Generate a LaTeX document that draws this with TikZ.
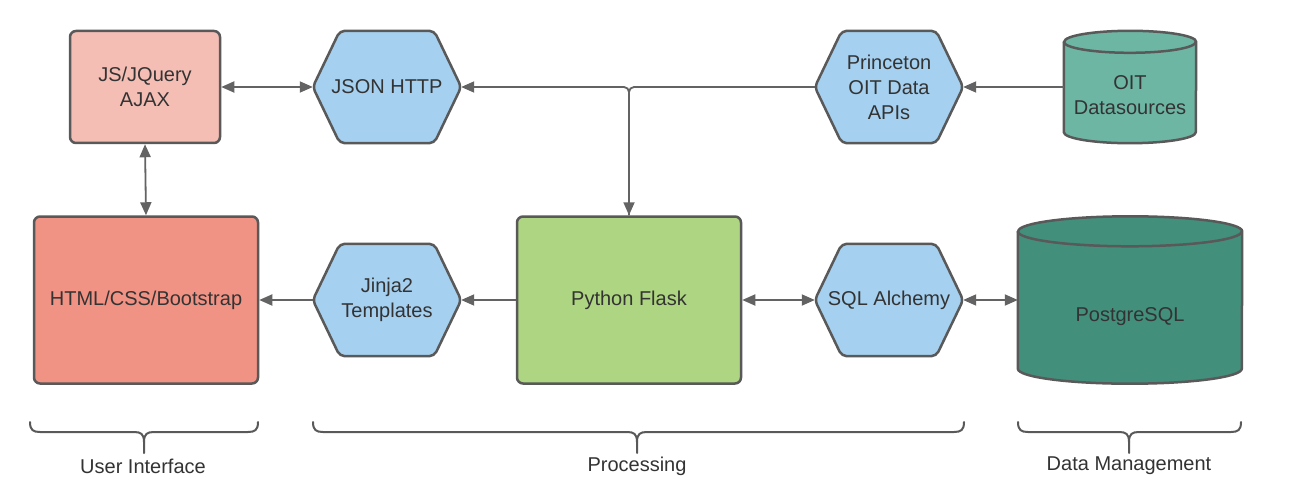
\documentclass[tikz,border=0pt]{standalone}
\usepackage{fontspec}
\setmainfont{Liberation Sans}
\usetikzlibrary{arrows.meta,backgrounds,calc}
\definecolor{jsfill}{HTML}{F5BEB5}
\definecolor{htmlfill}{HTML}{F09385}
\definecolor{hexfill}{HTML}{A5D0F0}
\definecolor{flaskfill}{HTML}{AED581}
\definecolor{oitfill}{HTML}{6EB6A4}
\definecolor{pgfill}{HTML}{428F7B}
\definecolor{edgecol}{HTML}{595959}
\definecolor{arrcol}{HTML}{636363}
\definecolor{txtcol}{HTML}{333333}
\tikzset{
  boxtext/.style={font=\fontsize{20}{25}\selectfont, text=txtcol, align=center},
  rectbox/.style={boxtext, draw=edgecol, line width=2.5pt, rounded corners=6pt, inner sep=0pt},
  hexbox/.style={boxtext, minimum width=148pt, minimum height=112pt, inner sep=0pt},
  hexline/.style={draw=edgecol, fill=hexfill, line width=2.5pt, rounded corners=5pt, line join=round},
  cylbox/.style={minimum width=#1, inner sep=0pt},
  cylline/.style={draw=edgecol, line width=2.5pt, line join=round},
  conn/.style={draw=arrcol, line width=1.8pt, arrows={-Triangle[length=13pt,width=11pt]}},
  bconn/.style={draw=arrcol, line width=1.8pt, arrows={Triangle[length=13pt,width=11pt]-Triangle[length=13pt,width=11pt]}},
  bracestyle/.style={draw=edgecol, line width=2pt, line cap=round, line join=round},
  grouplabel/.style={font=\fontsize{20}{22}\selectfont, text=txtcol, inner sep=0pt}
}
\newcommand\groupbrace[3]{%
  \draw[bracestyle] (#1,422) .. controls (#1,430) and (#1+3,432) .. (#1+10,432) -- (#2-10,432) .. controls (#2-3,432) and (#2,434) .. (#2,442) -- (#2,453);
  \draw[bracestyle] (#2,442) .. controls (#2,434) and (#2+3,432) .. (#2+10,432) -- (#3-10,432) .. controls (#3-3,432) and (#3,430) .. (#3,422);
}
\newcommand\cylshape[3]{% node, x radius, y radius
  \path[cylline, fill=#1fill] ([yshift=-#3]#1.north west) -- ([yshift=#3]#1.south west)
     arc[start angle=180, end angle=360, x radius=#2, y radius=#3]
     -- ([yshift=-#3]#1.north east)
     arc[start angle=0, end angle=180, x radius=#2, y radius=#3] -- cycle;
  \draw[cylline] ([yshift=-#3]#1.north west) arc[start angle=180, end angle=360, x radius=#2, y radius=#3];
}
\begin{document}
\begin{tikzpicture}[x=1pt,y=-1pt]
\useasboundingbox (0,0) rectangle (1290,492);

% rectangles
\node[rectbox, fill=jsfill, minimum width=150pt, minimum height=112pt] (js) at (145,87) {JS/JQuery\\AJAX};
\node[rectbox, fill=htmlfill, minimum width=224pt, minimum height=167pt] (html) at (146,300) {HTML/CSS/Bootstrap};
\node[rectbox, fill=flaskfill, minimum width=224pt, minimum height=167pt] (flask) at (629,300) {Python Flask};

% hexagons
\node[hexbox] (json) at (387,87) {JSON HTTP};
\node[hexbox] (jinja) at (387,300) {Jinja2\\Templates};
\node[hexbox] (api) at (889,87) {Princeton\\OIT Data\\APIs};
\node[hexbox] (sqla) at (889,300) {SQL Alchemy};

% cylinders
\node[cylbox=132pt, minimum height=112pt] (oit) at (1130,87) {};
\node[cylbox=224pt, minimum height=167pt] (pg) at (1130,300) {};

\begin{scope}[on background layer]
  \fill[white] (0,0) rectangle (1290,492);
  \foreach \n in {json,jinja,api,sqla}{
    \path[hexline] (\n.west) -- ([xshift=27pt]\n.north west) -- ([xshift=-27pt]\n.north east)
      -- (\n.east) -- ([xshift=-27pt]\n.south east) -- ([xshift=27pt]\n.south west) -- cycle;
  }
\end{scope}
\cylshape{oit}{66pt}{11pt}
\cylshape{pg}{112pt}{15pt}
\node[boxtext] (oittext) at ([yshift=-8pt]oit.center) {OIT\\Datasources};
\node[boxtext] (pgtext) at ([yshift=-17pt]pg.center) {PostgreSQL};

% connectors
\draw[bconn] (js.east) -- (json.west);
\draw[bconn] (js.south) -- (html.north);
\draw[conn] (oit.west) -- (api.east);
\draw[conn, rounded corners=5pt] (api.west) -| (flask.north);
\draw[conn, arrows={Triangle[length=13pt,width=11pt]-}, rounded corners=5pt] (json.east) -| (flask.north);
\draw[conn] (flask.west) -- (jinja.east);
\draw[conn] (jinja.west) -- (html.east);
\draw[bconn] (flask.east) -- (sqla.west);
\draw[bconn] (sqla.east) -- (pg.west);

% group braces
\groupbrace{30}{144}{258}
\groupbrace{313}{637}{964}
\groupbrace{1018}{1129}{1241}
\node[grouplabel] (uilabel) at (143,466) {User Interface};
\node[grouplabel] (proclabel) at (637,466) {Processing};
\node[grouplabel] (dmlabel) at (1129,466) {Data Management};
\end{tikzpicture}
\end{document}
